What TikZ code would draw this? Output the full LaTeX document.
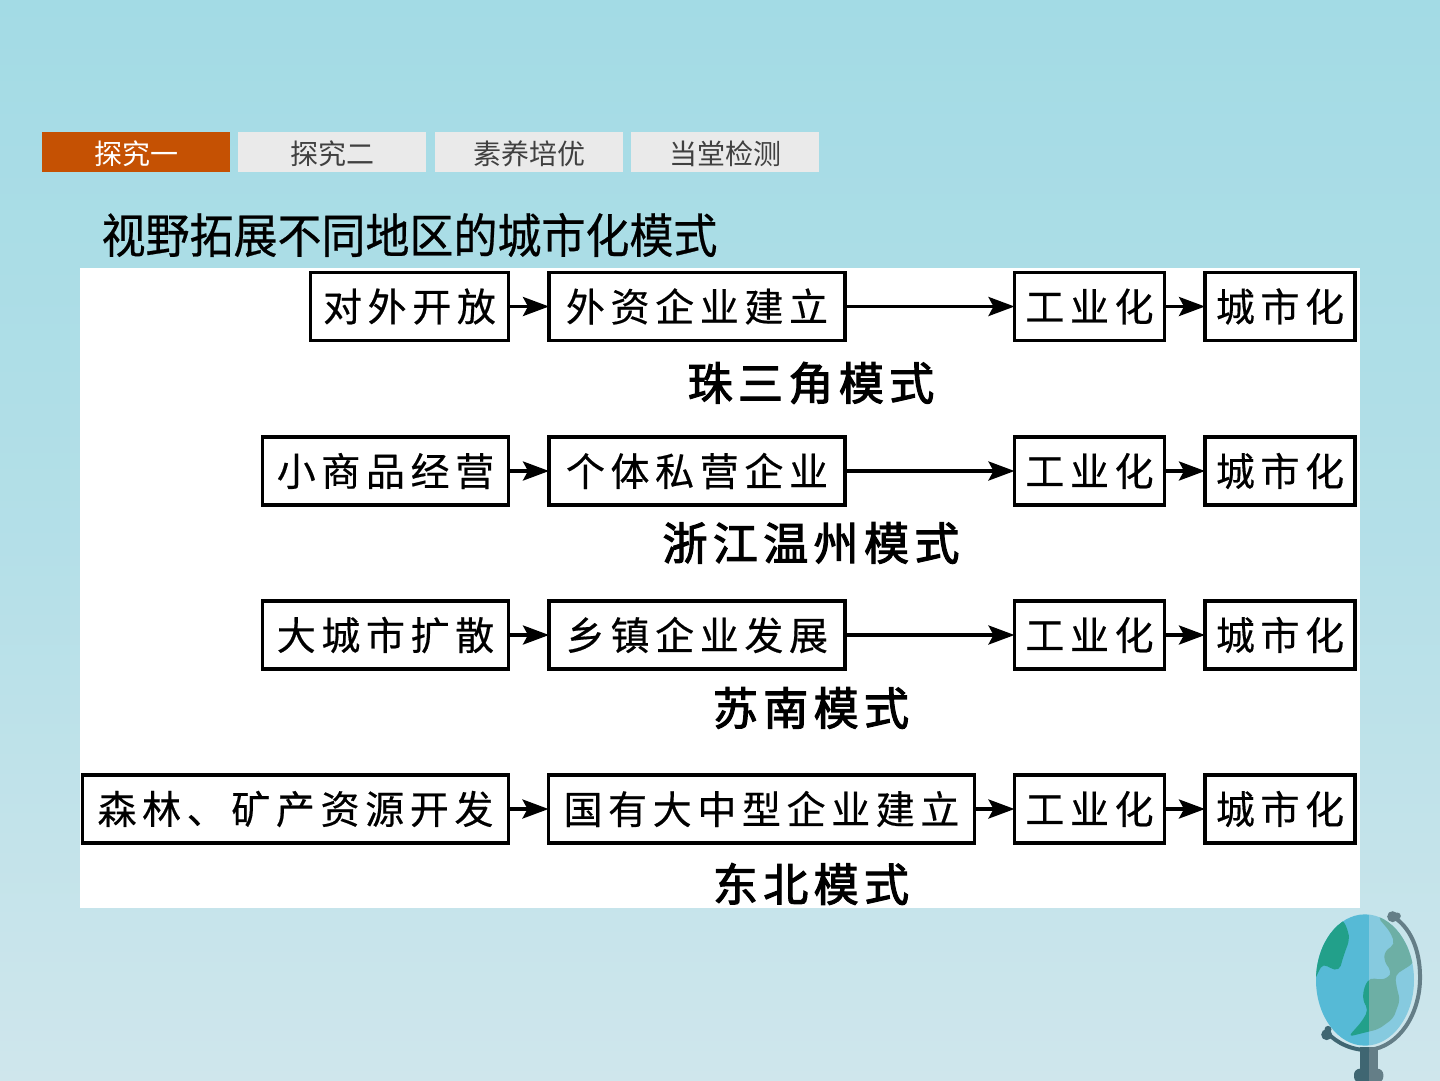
\documentclass[tikz,border=0pt]{standalone}
\usepackage{fontspec}
\usetikzlibrary{arrows.meta}
\newfontfamily\cjk{Noto Sans CJK SC}
\newfontfamily\cjktitle[FakeStretch=0.93,FakeBold=0.5]{Noto Sans CJK SC}
\newfontfamily\cjkbox[LetterSpace=14.4,FakeBold=0.4]{Noto Sans CJK SC}
\newfontfamily\cjkhead[LetterSpace=12,FakeBold=2.4]{Noto Sans CJK SC}
\definecolor{bgtop}{HTML}{A3DBE5}
\definecolor{bgbot}{HTML}{CFE6EC}
\definecolor{tabon}{HTML}{C55103}
\definecolor{taboff}{HTML}{EAEAEA}
\definecolor{tabtext}{HTML}{404040}
\definecolor{seaL}{HTML}{56BAD6}
\definecolor{seaR}{HTML}{86CADF}
\definecolor{landL}{HTML}{22A08A}
\definecolor{landR}{HTML}{6DAFA5}
\definecolor{standD}{HTML}{3F6672}
\definecolor{standL}{HTML}{647E87}
\tikzset{
  flowbox/.style={draw=black,line width=3.5pt,fill=white,inner sep=0pt,outer sep=0pt,
    minimum height=68pt,font=\cjkbox\fontsize{39}{39}\selectfont,text=black},
  flowarrow/.style={line width=3.5pt,draw=black,-{Stealth[length=26pt,width=19pt,inset=5pt]}},
  tabbox/.style={inner sep=0pt,outer sep=0pt,minimum width=188pt,minimum height=40pt,
    font=\cjk\fontsize{28}{28}\selectfont},
  tabtitle/.style={inner sep=0pt,outer sep=0pt},
  modelabel/.style={inner sep=0pt,font=\cjkhead\fontsize{45}{45}\selectfont,text=black},
}
% land masses of the globe, in the globe's local coordinates
\newcommand{\continents}{
  (160,60) -- (175,95) -- (178,120) -- (160,170) -- (148,212) -- (120,205) -- (100,190)
    -- (85,215) -- (75,240) -- (60,150) -- (120,50) -- cycle
  (262,50) -- (300,95) -- (315,132) -- (283,155) -- (283,185) -- (305,215) -- (297,232)
    -- (270,240) -- (240,232) -- (222,262) -- (218,300) -- (235,330) -- (215,365)
    -- (175,410) -- (235,395) -- (265,388) -- (310,355) -- (330,300) -- (320,262)
    -- (315,225) -- (370,190) -- (400,100) -- (300,30) -- cycle}
\begin{document}
\begin{tikzpicture}[x=1pt,y=-1pt]
\useasboundingbox (0,0) rectangle (1440,1080);
% backdrop and white panel
\shade[top color=bgtop,bottom color=bgbot,middle color=bgtop!62!bgbot] (0,0) rectangle (1440,1080);
\fill[white] (80,268) rectangle (1360,908);

% tab strip
\fill[tabon] (42,132) rectangle (230,172);
\fill[taboff] (238,132) rectangle (426,172);
\fill[taboff] (435,132) rectangle (623,172);
\fill[taboff] (631,132) rectangle (819,172);
\node[tabbox,text=white] (tab1) at (136,153.5) {探究一};
\node[tabbox,text=tabtext] (tab2) at (332,153.5) {探究二};
\node[tabbox,text=tabtext] (tab3) at (529,153.5) {素养培优};
\node[tabbox,text=tabtext] (tab4) at (725,153.5) {当堂检测};

% heading
\node[tabtitle,font=\cjktitle\fontsize{47.3}{47.3}\selectfont,text=black] (title) at (409.5,235) {视野拓展不同地区的城市化模式};

% first row
\node[flowbox,minimum width=198pt] (a1) at (409.5,306.5) {对外开放};
\node[flowbox,minimum width=296pt] (b1) at (697,306.5) {外资企业建立};
\node[flowbox,minimum width=150pt] (c1) at (1089.5,306.5) {工业化};
\node[flowbox,minimum width=150pt] (d1) at (1280,306.5) {城市化};
\node[modelabel] (m1) at (811,383) {珠三角模式};

% second row
\node[flowbox,minimum width=246pt] (a2) at (385.5,471) {小商品经营};
\node[flowbox,minimum width=296pt] (b2) at (697,471) {个体私营企业};
\node[flowbox,minimum width=150pt] (c2) at (1089.5,471) {工业化};
\node[flowbox,minimum width=150pt] (d2) at (1280,471) {城市化};
\node[modelabel] (m2) at (811,543) {浙江温州模式};

% third row
\node[flowbox,minimum width=246pt] (a3) at (385.5,635) {大城市扩散};
\node[flowbox,minimum width=296pt] (b3) at (697,635) {乡镇企业发展};
\node[flowbox,minimum width=150pt] (c3) at (1089.5,635) {工业化};
\node[flowbox,minimum width=150pt] (d3) at (1280,635) {城市化};
\node[modelabel] (m3) at (811,708) {苏南模式};

% fourth row
\node[flowbox,minimum width=426pt] (a4) at (295.5,809) {森林、矿产资源开发};
\node[flowbox,minimum width=426pt] (b4) at (761.5,809) {国有大中型企业建立};
\node[flowbox,minimum width=150pt] (c4) at (1089.5,809) {工业化};
\node[flowbox,minimum width=150pt] (d4) at (1280,809) {城市化};
\node[modelabel] (m4) at (811,884) {东北模式};

% connectors
\foreach \r in {1,2,3,4}{
  \draw[flowarrow] (a\r) -- (b\r);
  \draw[flowarrow] (b\r) -- (c\r);
  \draw[flowarrow] (c\r) -- (d\r);
}

% desk globe in the lower right corner
\begin{scope}[shift={(1290,900)},x=0.3333pt,y=-0.3333pt]
  \fill[standL] (237,440) rectangle (265,540);
  \fill[standD] (210,440) rectangle (237,540);
  \fill[standD,rounded corners=6pt] (192,506) rectangle (237,548);
  \fill[standL,rounded corners=6pt] (237,506) rectangle (280,548);
  \fill[standD] (230,506) rectangle (237,548);
  \fill[standL] (237,506) rectangle (244,548);
  \draw[standL,line width=4pt] (310,50) .. controls (372,90) and (392,170) .. (390,240)
     .. controls (388,340) and (330,440) .. (237,450);
  \draw[standD,line width=4pt] (237,450) .. controls (190,452) and (140,430) .. (112,398);
  \fill[standL] (308,50) circle[radius=5.5pt];
  \fill[standL] (322,48) circle[radius=3.5pt];
  \fill[standL] (303,43) circle[radius=2.5pt];
  \fill[standD] (110,404) circle[radius=5.5pt];
  \fill[standD] (114,388) circle[radius=3.5pt];
  \begin{scope}
    \clip (225,240) ellipse[x radius=147,y radius=197];
    \fill[seaL] (70,30) rectangle (237,450);
    \fill[seaR] (237,30) rectangle (380,450);
    \begin{scope}
      \clip (70,30) rectangle (237,450);
      \fill[landL,rounded corners=5pt] \continents;
    \end{scope}
    \begin{scope}
      \clip (237,30) rectangle (380,450);
      \fill[landR,rounded corners=5pt] \continents;
    \end{scope}
  \end{scope}
\end{scope}
\end{tikzpicture}
\end{document}
